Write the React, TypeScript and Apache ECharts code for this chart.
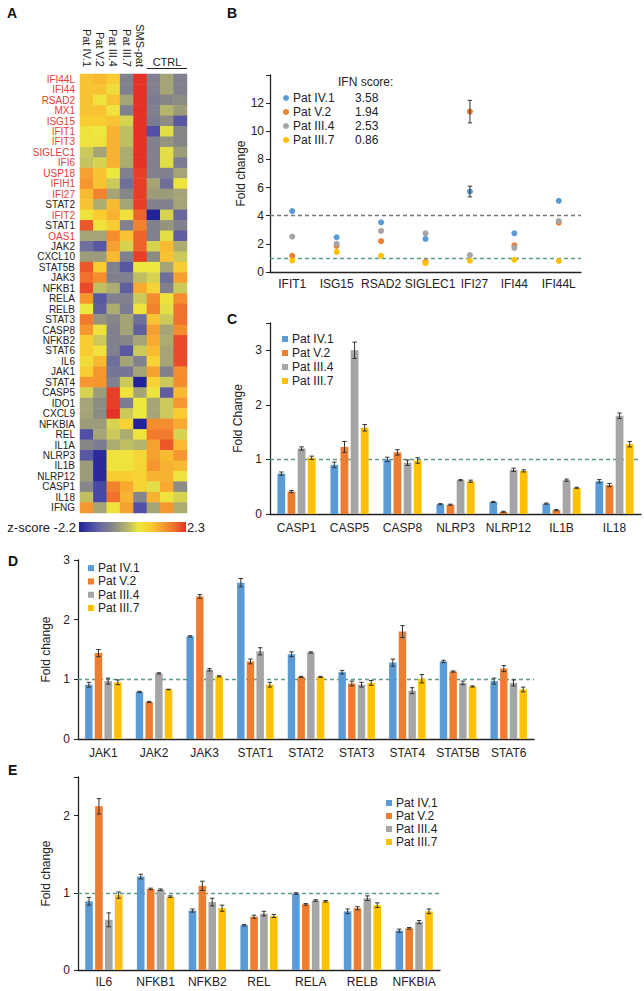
import React, { useEffect, useRef } from 'react';
import * as echarts from 'echarts';

const FONT = '"Liberation Sans", Arial, sans-serif';

const patients = ['Pat IV.1', 'Pat V.2', 'Pat III.4', 'Pat III.7'];
const patientColors = ['#5b9bd5', '#ed7d31', '#a5a5a5', '#ffc000'];

// ---------- Panel A (heatmap) ----------
const heatColumns = ['Pat IV.1', 'Pat V.2', 'Pat III.4', 'Pat III.7', 'SMS-pat', 'CTRL-1', 'CTRL-2', 'CTRL-3'];
const heatGenes = [
  'IFI44L', 'IFI44', 'RSAD2', 'MX1', 'ISG15', 'IFIT1', 'IFIT3', 'SIGLEC1', 'IFI6', 'USP18', 'IFIH1', 'IFI27',
  'STAT2', 'IFIT2', 'STAT1', 'OAS1', 'JAK2', 'CXCL10', 'STAT5B', 'JAK3', 'NFKB1', 'RELA', 'RELB', 'STAT3',
  'CASP8', 'NFKB2', 'STAT6', 'IL6', 'JAK1', 'STAT4', 'CASP5', 'IDO1', 'CXCL9', 'NFKBIA', 'REL', 'IL1A',
  'NLRP3', 'IL1B', 'NLRP12', 'CASP1', 'IL18', 'IFNG',
];
const redGenes = ['IFI44L', 'IFI44', 'RSAD2', 'MX1', 'ISG15', 'IFIT1', 'IFIT3', 'SIGLEC1', 'IFI6', 'USP18', 'IFIH1', 'IFI27', 'IFIT2', 'OAS1'];
const heatValues = [
  [0.9, 1.0, 0.8, -0.9, 2.3, -0.9, -0.4, -0.9],
  [0.9, 0.9, 0.5, -0.9, 2.3, -0.9, -0.4, -0.9],
  [0.9, 0.4, 0.9, -0.4, 2.3, -1.0, -0.8, -0.7],
  [0.9, 0.9, 0.4, -0.9, 2.3, -0.9, -0.2, -0.5],
  [0.8, 0.8, 0.9, 0.1, 2.3, -1.0, -0.7, -1.5],
  [0.4, 0.3, 1.1, -0.1, 2.3, -1.6, 0.2, -0.8],
  [0.4, 0.4, 1.1, -0.1, 2.3, -0.9, -0.6, -0.8],
  [0.0, -0.4, 1.1, -0.3, 2.3, -0.9, 0.2, -0.5],
  [-0.05, 0.1, 1.1, -0.3, 2.3, -0.9, 0.2, -1.0],
  [1.3, 0.9, 0.3, -0.9, 2.2, -0.9, -0.9, -0.4],
  [1.4, 0.9, 0.0, -1.2, 2.2, -0.4, -1.2, 0.4],
  [1.0, 1.6, -0.4, -0.8, 2.2, -0.5, -0.5, -0.4],
  [0.9, -0.3, 1.0, -0.4, 2.2, -0.9, -0.9, -0.4],
  [0.4, 0.8, 1.1, 0.4, 1.9, -2.2, 0.1, -1.3],
  [2.0, 0.4, 0.8, -0.9, 1.6, -0.9, -0.6, -0.9],
  [-0.4, -0.4, 1.5, 0.9, 1.9, -0.9, 0.2, -1.4],
  [-1.2, -1.5, 1.3, 0.1, 1.9, 0.1, 1.0, -0.3],
  [-0.5, -0.5, 1.0, -0.9, 2.2, -0.7, 0.9, 0.0],
  [2.0, 0.8, -0.9, -1.5, 0.3, 0.3, -0.4, 0.8],
  [1.8, 1.5, -0.9, -0.9, -0.1, 0.1, -1.2, 1.3],
  [2.1, -0.1, -0.3, -1.4, 1.2, 0.7, -0.9, 0.0],
  [1.4, -1.5, -0.9, -0.9, 0.0, 1.5, 0.4, 1.5],
  [0.3, -1.4, -0.3, -1.0, 0.4, 1.6, 0.2, 1.8],
  [1.7, -0.6, -0.8, -0.4, -1.2, 0.9, 0.0, 1.8],
  [1.4, 0.4, -0.9, -0.4, -1.4, 1.3, -0.4, 1.5],
  [0.8, 0.0, -0.9, -0.8, -0.4, 1.2, -0.3, 2.1],
  [0.8, 0.4, -0.9, -1.5, 0.0, 1.0, -0.4, 2.1],
  [0.5, 1.0, -1.2, -0.4, -0.9, 0.7, -0.4, 2.1],
  [0.8, 1.4, -1.1, -1.1, -0.4, 1.3, -0.9, 1.5],
  [1.4, 1.4, -0.9, 0.0, -2.2, 0.7, 0.0, 1.5],
  [0.1, -0.5, 2.2, 0.4, -0.4, 0.4, -1.4, 1.0],
  [-0.4, -0.7, 2.2, -1.0, 0.3, -0.4, 0.0, 1.4],
  [-0.4, -0.7, 2.3, 0.0, 0.3, -0.4, 0.0, 0.8],
  [-0.5, -0.5, 0.1, 0.7, -2.2, 1.5, 1.5, 1.2],
  [-1.6, -0.4, 0.0, -0.3, 0.4, 1.7, 1.7, 0.1],
  [-0.8, -1.0, -0.3, -0.1, -0.2, 1.3, 2.0, 1.0],
  [-1.5, -2.1, 0.4, 0.4, 0.6, 1.3, 1.0, 1.4],
  [-0.5, -2.1, 0.4, 0.4, 0.6, 1.4, 1.1, 1.0],
  [-0.5, -2.1, 0.8, 0.8, 0.7, 1.1, 1.1, 0.4],
  [-0.8, -1.7, 1.6, 1.2, 0.7, 0.2, 1.2, -0.7],
  [-0.1, -1.7, 1.8, 1.1, -0.8, 1.1, 0.4, 0.1],
  [1.4, -0.4, 0.4, 1.3, -1.6, -0.4, 1.4, -0.3],
];
const zMin = -2.2;
const zMax = 2.3;
const heatPalette = ['#22229a', '#4848a6', '#6f6f9c', '#8c8c84', '#b4b46c', '#ece83e', '#f9cc32', '#f6a030', '#f0702c', '#e63127'];

// ---------- Panel B ----------
const ifnGenes = ['IFIT1', 'ISG15', 'RSAD2', 'SIGLEC1', 'IFI27', 'IFI44', 'IFI44L'];
const ifnShiftedLabels = ['SIGLEC1', 'IFI27'];
const ifnIV1 = [4.33, 2.47, 3.53, 2.35, 5.72, 2.75, 5.06];
const ifnV2 = [1.15, 1.86, 2.19, 0.73, 11.4, 1.9, 3.5];
const ifnIII4 = [2.52, 2.0, 2.92, 2.75, 1.2, 1.72, 3.62];
const ifnIII7 = [0.82, 1.43, 1.15, 0.63, 0.8, 0.87, 0.78];
const ifnErrIV1 = [0, 0, 0, 0, 0.38, 0, 0];
const ifnErrV2 = [0, 0, 0, 0, 0.8, 0, 0];
const ifnErrIII4 = [0, 0, 0, 0, 0, 0, 0];
const ifnErrIII7 = [0, 0, 0, 0, 0, 0, 0];
const ifnScores = ['3.58', '1.94', '2.53', '0.86'];
const bTicks = [0, 2, 4, 6, 8, 10, 12];

// ---------- Panel C ----------
const inflGenes = ['CASP1', 'CASP5', 'CASP8', 'NLRP3', 'NLRP12', 'IL1B', 'IL18'];
const inflIV1 = [0.74, 0.9, 1.0, 0.18, 0.22, 0.19, 0.6];
const inflV2 = [0.41, 1.23, 1.13, 0.17, 0.04, 0.07, 0.53];
const inflIII4 = [1.2, 3.0, 0.94, 0.62, 0.81, 0.62, 1.8];
const inflIII7 = [1.03, 1.58, 0.98, 0.6, 0.79, 0.48, 1.28];
const inflErrIV1 = [0.03, 0.05, 0.04, 0.01, 0.01, 0.01, 0.03];
const inflErrV2 = [0.02, 0.1, 0.05, 0.01, 0.01, 0.01, 0.03];
const inflErrIII4 = [0.03, 0.15, 0.05, 0.01, 0.03, 0.02, 0.05];
const inflErrIII7 = [0.03, 0.06, 0.05, 0.02, 0.02, 0.01, 0.05];
const cTicks = [0, 1, 2, 3];

// ---------- Panel D ----------
const jakGenes = ['JAK1', 'JAK2', 'JAK3', 'STAT1', 'STAT2', 'STAT3', 'STAT4', 'STAT5B', 'STAT6'];
const jakIV1 = [0.91, 0.79, 1.72, 2.62, 1.42, 1.12, 1.28, 1.3, 0.97];
const jakV2 = [1.44, 0.62, 2.39, 1.3, 1.04, 0.93, 1.8, 1.13, 1.18];
const jakIII4 = [0.97, 1.1, 1.16, 1.47, 1.45, 0.91, 0.81, 0.94, 0.94];
const jakIII7 = [0.95, 0.83, 1.05, 0.91, 1.04, 0.94, 1.01, 0.88, 0.83];
const jakErrIV1 = [0.04, 0.01, 0.01, 0.07, 0.04, 0.03, 0.06, 0.02, 0.05];
const jakErrV2 = [0.06, 0.01, 0.03, 0.04, 0.01, 0.04, 0.1, 0.01, 0.05];
const jakErrIII4 = [0.05, 0.01, 0.02, 0.06, 0.01, 0.04, 0.05, 0.03, 0.05];
const jakErrIII7 = [0.04, 0.005, 0.01, 0.04, 0.01, 0.04, 0.07, 0.01, 0.04];
const dTicks = [0, 1, 2, 3];

// ---------- Panel E ----------
const nfkGenes = ['IL6', 'NFKB1', 'NFKB2', 'REL', 'RELA', 'RELB', 'NFKBIA'];
const nfkIV1 = [0.89, 1.21, 0.77, 0.58, 0.99, 0.76, 0.51];
const nfkV2 = [2.12, 1.05, 1.09, 0.69, 0.85, 0.8, 0.54];
const nfkIII4 = [0.65, 1.04, 0.88, 0.73, 0.9, 0.93, 0.62];
const nfkIII7 = [0.97, 0.95, 0.8, 0.7, 0.89, 0.84, 0.76];
const nfkErrIV1 = [0.05, 0.03, 0.02, 0.01, 0.01, 0.03, 0.02];
const nfkErrV2 = [0.1, 0.01, 0.06, 0.02, 0.01, 0.02, 0.01];
const nfkErrIII4 = [0.09, 0.01, 0.05, 0.03, 0.01, 0.03, 0.02];
const nfkErrIII7 = [0.04, 0.01, 0.04, 0.02, 0.01, 0.03, 0.03];
const eTicks = [0, 1, 2];

const CAT_GAP = 0.28;
const BAR_GAP = 0.3;
const TEXT = '#222';
const GREEN = '#5a9e7c';

function errorSeries(xIdx: number, values: number[][], errs: number[][], grouped: boolean) {
  const data: number[][] = [];
  values.forEach((vals, p) =>
    vals.forEach((v, c) => {
      const e = errs[p][c];
      if (e > 0) data.push([c, p, v - e, v + e]);
    })
  );
  return {
    type: 'custom',
    xAxisIndex: xIdx,
    yAxisIndex: xIdx,
    silent: true,
    z: 10,
    encode: { x: 0, y: [2, 3] },
    data,
    renderItem: (params: any, api: any) => {
      const c = api.value(0);
      const p = api.value(1);
      const lo = api.coord([c, api.value(2)]);
      const hi = api.coord([c, api.value(3)]);
      let off = 0;
      if (grouped) {
        const W = api.size([1, 0])[0];
        const groupW = W * (1 - CAT_GAP);
        const b = groupW / (4 + 3 * BAR_GAP);
        off = -groupW / 2 + b / 2 + p * b * (1 + BAR_GAP);
      }
      const x = lo[0] + off;
      const cap = 2.2;
      const st = { stroke: '#333', lineWidth: 1 };
      return {
        type: 'group',
        children: [
          { type: 'line', shape: { x1: x, y1: lo[1], x2: x, y2: hi[1] }, style: st },
          { type: 'line', shape: { x1: x - cap, y1: hi[1], x2: x + cap, y2: hi[1] }, style: st },
          { type: 'line', shape: { x1: x - cap, y1: lo[1], x2: x + cap, y2: lo[1] }, style: st },
        ],
      };
    },
  };
}

function barSeries(idx: number, values: number[][], withLine: boolean) {
  return values.map((vals, p) => ({
    type: 'bar',
    name: patients[p],
    xAxisIndex: idx,
    yAxisIndex: idx,
    data: vals,
    barCategoryGap: `${CAT_GAP * 100}%`,
    barGap: `${BAR_GAP * 100}%`,
    itemStyle: { color: patientColors[p] },
    markLine:
      withLine && p === 0
        ? {
            silent: true,
            symbol: 'none',
            label: { show: false },
            lineStyle: { color: GREEN, type: [4, 3], width: 1.3 },
            data: [{ yAxis: 1 }],
            z: 1,
          }
        : undefined,
  }));
}

function catAxis(idx: number, data: string[], margin: number, extra: any = {}) {
  return {
    type: 'category',
    gridIndex: idx,
    data,
    axisLine: { show: true, lineStyle: { color: TEXT, width: 1.3 } },
    axisTick: { show: false },
    axisLabel: { fontSize: 12, color: TEXT, margin, interval: 0, fontFamily: FONT, ...extra },
    splitLine: { show: false },
  };
}

function valAxis(idx: number, max: number, interval: number, ticks: number[], name: string, nameGap: number, margin: number) {
  return {
    type: 'value',
    gridIndex: idx,
    min: 0,
    max,
    interval,
    name,
    nameLocation: 'middle',
    nameGap,
    nameTextStyle: { fontSize: 12, color: TEXT, fontFamily: FONT },
    axisLine: { show: true, lineStyle: { color: TEXT, width: 1.3 } },
    axisTick: { show: true, length: 4, lineStyle: { color: TEXT } },
    axisLabel: {
      fontSize: 12,
      color: TEXT,
      margin,
      fontFamily: FONT,
      formatter: (v: number) => (ticks.includes(v) ? String(v) : ''),
    },
    splitLine: { show: false },
  };
}

function legendAt(left: number, top: number, icon: string, lineHeight: number) {
  return {
    data: patients,
    left,
    top,
    orient: 'vertical',
    icon,
    itemWidth: 6,
    itemHeight: 6,
    itemGap: 0,
    padding: 0,
    selectedMode: false,
    textStyle: { fontSize: 12, color: TEXT, lineHeight, fontFamily: FONT, padding: [0, 0, 0, -1] },
  };
}

function letter(text: string, x: number, y: number) {
  return {
    type: 'text',
    x,
    y,
    style: { text, fill: '#111', font: `bold 14px ${FONT}`, verticalAlign: 'middle' },
  };
}

export default function App() {
  const ref = useRef<HTMLDivElement>(null);

  useEffect(() => {
    if (!ref.current) return;
    const chart = echarts.init(ref.current, undefined, { renderer: 'svg' });

    const heatData: number[][] = [];
    heatValues.forEach((row, r) => row.forEach((v, c) => heatData.push([c, r, v])));

    const ifnValues = [ifnIV1, ifnV2, ifnIII4, ifnIII7];
    const ifnErrs = [ifnErrIV1, ifnErrV2, ifnErrIII4, ifnErrIII7];

    const gradStops = heatPalette.map((c, i) => ({ offset: i / (heatPalette.length - 1), color: c }));

    const option: any = {
      animation: false,
      textStyle: { fontFamily: FONT },
      grid: [
        { left: 80, top: 74, width: 107, height: 439 },
        { left: 270, top: 75, width: 311, height: 197 },
        { left: 270, top: 323, width: 371, height: 191 },
        { left: 78, top: 560, width: 456, height: 179 },
        { left: 78, top: 777, width: 362, height: 193 },
      ],
      xAxis: [
        {
          type: 'category',
          gridIndex: 0,
          data: heatColumns,
          position: 'top',
          axisLine: { show: false },
          axisTick: { show: false },
          axisLabel: {
            rotate: 90,
            fontSize: 11,
            color: TEXT,
            margin: 7,
            interval: 0,
            fontFamily: FONT,
            formatter: (v: string) => (v.startsWith('CTRL') ? '' : v),
          },
        },
        catAxis(1, ifnGenes, 6, {
          formatter: (v: string) => (ifnShiftedLabels.includes(v) ? `{s|${v}}` : v),
          rich: { s: { fontSize: 12, color: TEXT, fontFamily: FONT, padding: [0, 0, 0, 9] } },
        }),
        catAxis(2, inflGenes, 8),
        catAxis(3, jakGenes, 8),
        catAxis(4, nfkGenes, 6),
      ],
      yAxis: [
        {
          type: 'category',
          gridIndex: 0,
          data: heatGenes,
          inverse: true,
          axisLine: { show: false },
          axisTick: { show: false },
          axisLabel: {
            fontSize: 10,
            interval: 0,
            margin: 5,
            fontFamily: FONT,
            color: (v: string) => (redGenes.includes(v) ? '#e0403a' : TEXT),
          },
        },
        valAxis(1, 14, 2, bTicks, 'Fold change', 20, 6),
        valAxis(2, 3.5, 1, cTicks, 'Fold Change', 20, 8),
        valAxis(3, 3, 1, dTicks, 'Fold change', 17, 8),
        valAxis(4, 2.5, 1, eTicks, 'Fold change', 17, 8),
      ],
      visualMap: {
        show: false,
        type: 'continuous',
        min: zMin,
        max: zMax,
        dimension: 2,
        seriesIndex: 0,
        inRange: { color: heatPalette },
      },
      legend: [
        legendAt(283, 91, 'circle', 14),
        legendAt(282, 332, 'rect', 14),
        legendAt(88, 561.5, 'rect', 13.3),
        legendAt(386, 796.5, 'rect', 13),
      ],
      series: [
        {
          type: 'heatmap',
          xAxisIndex: 0,
          yAxisIndex: 0,
          data: heatData,
          silent: true,
        },
        ...ifnValues.map((vals, p) => ({
          type: 'scatter',
          name: patients[p],
          xAxisIndex: 1,
          yAxisIndex: 1,
          data: vals,
          symbolSize: 6,
          itemStyle: { color: patientColors[p], opacity: 1 },
          z: 5,
          markLine:
            p === 0
              ? {
                  silent: true,
                  symbol: 'none',
                  label: { show: false },
                  data: [
                    { yAxis: 4, lineStyle: { color: '#777', type: [4, 3], width: 1.3 } },
                    { yAxis: 1, lineStyle: { color: GREEN, type: [4, 3], width: 1.3 } },
                  ],
                }
              : undefined,
        })),
        errorSeries(1, ifnValues, ifnErrs, false),
        ...barSeries(2, [inflIV1, inflV2, inflIII4, inflIII7], true),
        errorSeries(2, [inflIV1, inflV2, inflIII4, inflIII7], [inflErrIV1, inflErrV2, inflErrIII4, inflErrIII7], true),
        ...barSeries(3, [jakIV1, jakV2, jakIII4, jakIII7], true),
        errorSeries(3, [jakIV1, jakV2, jakIII4, jakIII7], [jakErrIV1, jakErrV2, jakErrIII4, jakErrIII7], true),
        ...barSeries(4, [nfkIV1, nfkV2, nfkIII4, nfkIII7], true),
        errorSeries(4, [nfkIV1, nfkV2, nfkIII4, nfkIII7], [nfkErrIV1, nfkErrV2, nfkErrIII4, nfkErrIII7], true),
      ],
      graphic: [
        letter('A', 7, 13),
        letter('B', 227, 13),
        letter('C', 227, 319),
        letter('D', 8, 561),
        letter('E', 8, 770),
        {
          type: 'text',
          x: 167,
          y: 62,
          style: { text: 'CTRL', font: `11px ${FONT}`, fill: TEXT, align: 'center', verticalAlign: 'middle' },
        },
        { type: 'line', shape: { x1: 147, y1: 68.5, x2: 187, y2: 68.5 }, style: { stroke: TEXT, lineWidth: 1 } },
        {
          type: 'rect',
          shape: { x: 79, y: 522, width: 107, height: 10 },
          style: { fill: new echarts.graphic.LinearGradient(0, 0, 1, 0, gradStops) },
        },
        {
          type: 'text',
          x: 76,
          y: 527,
          style: { text: `z-score ${zMin}`, font: `13px ${FONT}`, fill: TEXT, align: 'right', verticalAlign: 'middle' },
        },
        {
          type: 'text',
          x: 187,
          y: 527,
          style: { text: `${zMax}`, font: `13px ${FONT}`, fill: TEXT, align: 'left', verticalAlign: 'middle' },
        },
        {
          type: 'text',
          x: 338,
          y: 82,
          style: { text: 'IFN score:', font: `12px ${FONT}`, fill: TEXT, verticalAlign: 'middle' },
        },
        ...ifnScores.map((s, i) => ({
          type: 'text',
          x: 355,
          y: 98 + i * 14,
          style: { text: s, font: `12px ${FONT}`, fill: TEXT, verticalAlign: 'middle' },
        })),
      ],
    };

    chart.setOption(option);
    return () => chart.dispose();
  }, []);

  return <div ref={ref} style={{ position: 'absolute', left: 0, top: 0, width: 644, height: 991, background: '#fff' }} />;
}
